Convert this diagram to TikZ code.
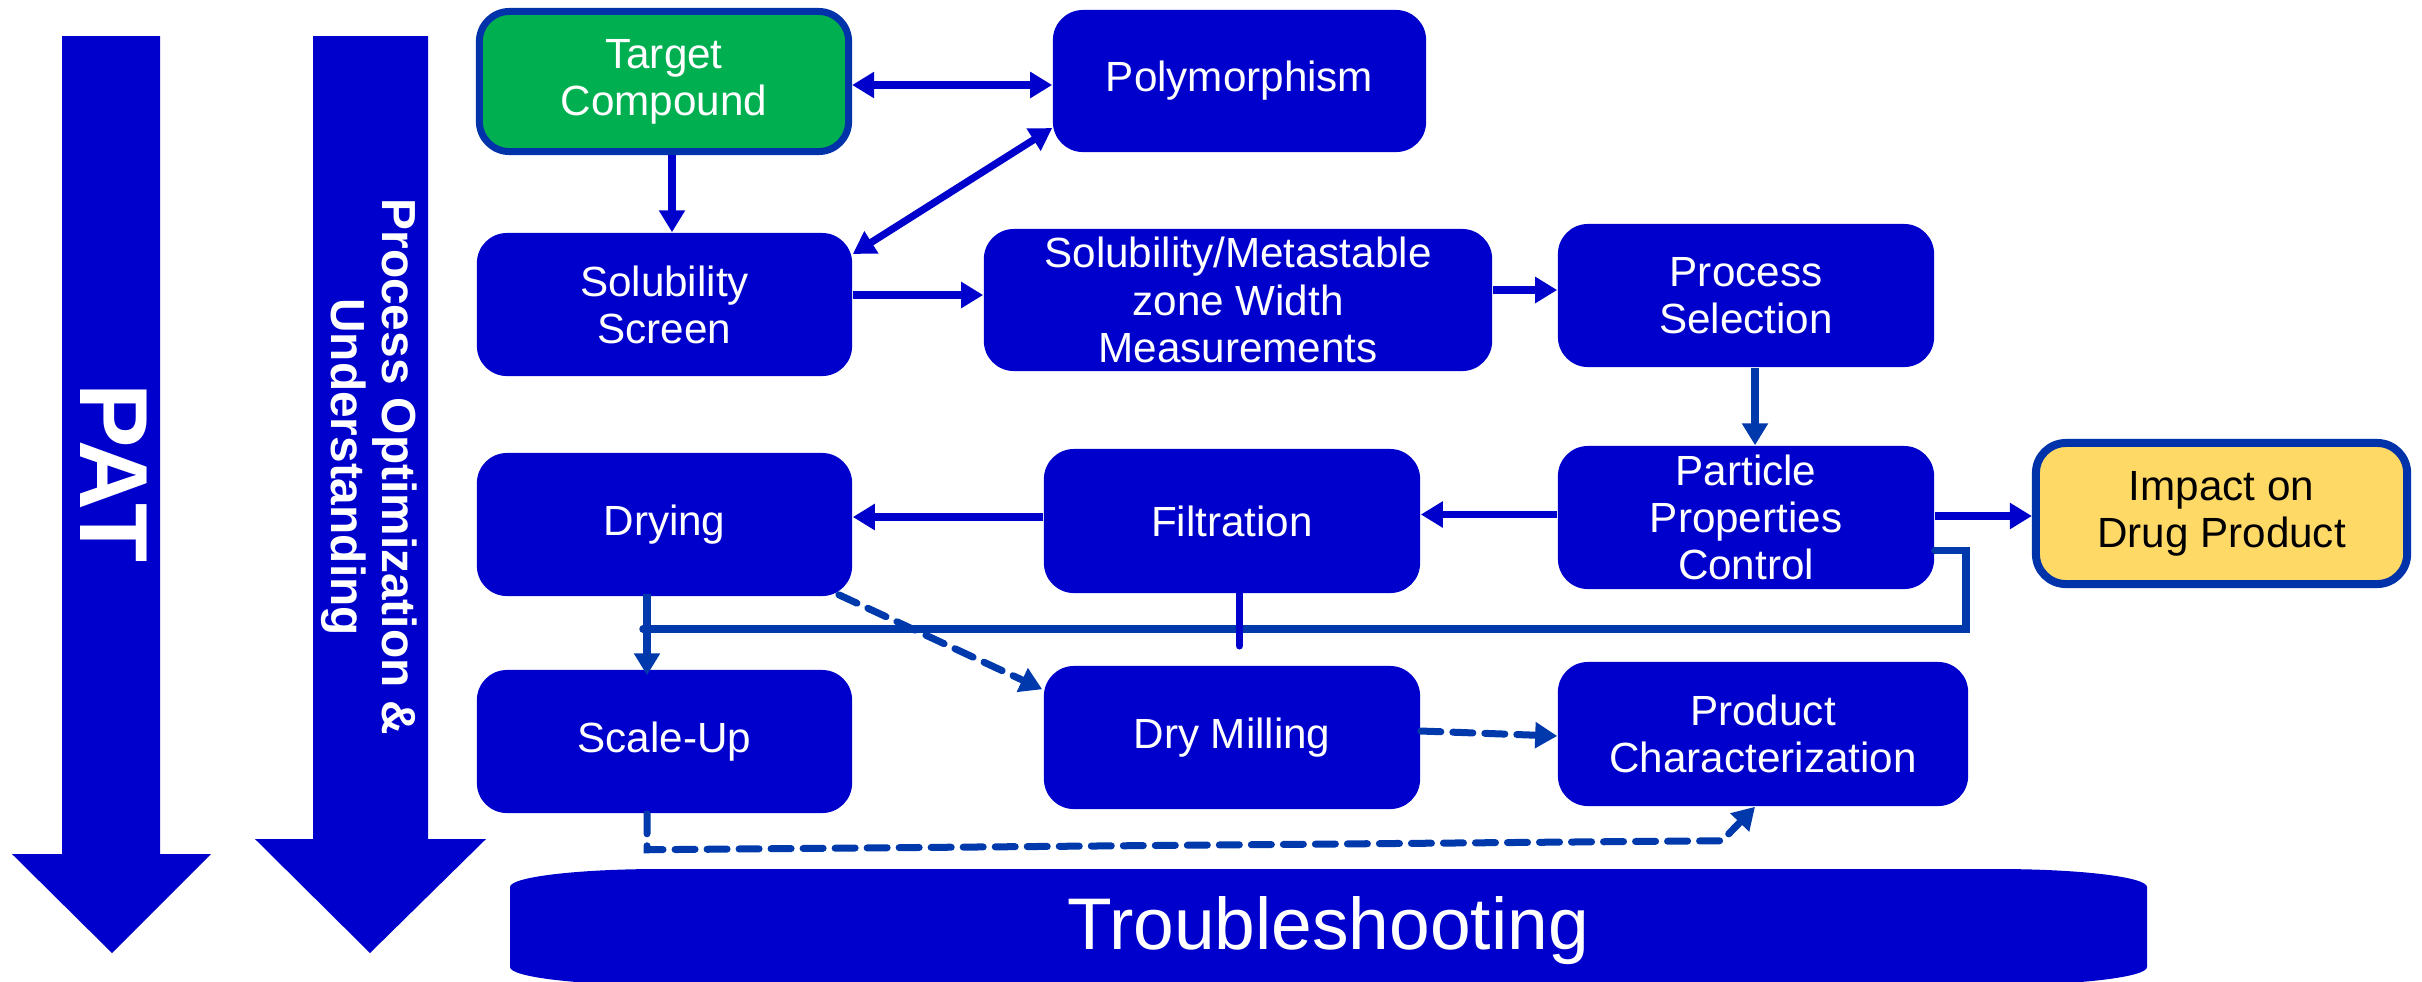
\documentclass[tikz,border=0pt]{standalone}
\usepackage{fontspec}
\setmainfont{Liberation Sans}
\usetikzlibrary{arrows.meta,calc}
\definecolor{boxblue}{HTML}{0000CC}
\definecolor{lineblue}{HTML}{0039AC}
\definecolor{edgeblue}{HTML}{0033AA}
\definecolor{tgreen}{HTML}{00B050}
\definecolor{tyellow}{HTML}{FFD966}
\begin{document}
\begin{tikzpicture}[x=0.01cm,y=-0.01cm,
  >={Triangle[length=0.22cm,width=0.25cm]},
  box/.style={rectangle, rounded corners=0.3cm, fill=boxblue, text=white, align=center,
    font=\fontsize{12}{13.4}\selectfont, inner sep=0pt, minimum width=3.75cm, minimum height=1.43cm},
  conn/.style={draw=boxblue, line width=0.072cm, ->},
  fb/.style={draw=lineblue, line width=0.075cm, line cap=round},
  dashconn/.style={draw=lineblue, line width=0.07cm, line cap=round, dash pattern=on 0.2cm off 0.12cm, ->},
  bigtext/.style={rotate=-90, text=white, align=center}
]
\useasboundingbox (0,0) rectangle (2422,981);

% big arrows
\fill[boxblue] (62,36) -- (160,36) -- (160,854) -- (211,854) -- (112,953) -- (12,854) -- (62,854) -- cycle;
\fill[boxblue] (313,36) -- (428,36) -- (428,839) -- (486,839) -- (370,953) -- (255,839) -- (313,839) -- cycle;
\node[bigtext, font=\bfseries\fontsize{27.5}{30}\selectfont] (pat) at (114,473) {PAT};
\node[bigtext, font=\bfseries\fontsize{13.6}{14.6}\selectfont] (poc) at (369,467) {Process Optimization \&\\Understanding};

% troubleshooting bar
\fill[boxblue] (510,887) .. controls (510,877) and (577,869) .. (660,869) -- (1997,869)
  .. controls (2080,869) and (2147,877) .. (2147,887) -- (2147,967)
  .. controls (2147,977) and (2080,985) .. (1997,985) -- (660,985)
  .. controls (577,985) and (510,977) .. (510,967) -- cycle;
\node[text=white, font=\fontsize{20.8}{24}\selectfont, anchor=base] (trouble) at (1328,949) {Troubleshooting};

% boxes
\node[box, fill=tgreen, draw=edgeblue, line width=0.07cm, minimum width=3.69cm, minimum height=1.40cm] (target) at (664,81.5) {Target\\Compound};
\node[box, minimum width=3.73cm, minimum height=1.42cm] (poly) at (1239.5,81) {Polymorphism};
\node[box] (solub) at (664.5,304.5) {Solubility\\Screen};
\node[box, minimum width=5.08cm, minimum height=1.42cm] (smzw) at (1238,300) {Solubility/Metastable\\zone Width\\Measurements};
\node[box, minimum width=3.76cm] (process) at (1746,295.5) {Process\\Selection};
\node[box] (drying) at (664.5,524.5) {Drying};
\node[box, minimum width=3.76cm, minimum height=1.44cm] (filtration) at (1232,521) {Filtration};
\node[box, minimum width=3.76cm] (particle) at (1746,517.5) {Particle\\Properties\\Control};
\node[box, fill=tyellow, text=black, draw=edgeblue, line width=0.08cm, minimum width=3.71cm, minimum height=1.41cm] (impact) at (2221.5,513.5) {Impact on\\Drug Product};
\node[box] (scaleup) at (664.5,741.5) {Scale-Up};
\node[box, minimum width=3.76cm] (drymill) at (1232,737.5) {Dry Milling};
\node[box, minimum width=4.10cm, minimum height=1.44cm] (product) at (1763,734) {Product\\Characterization};

% connectors
\draw[conn,<->] ($(target.east)+(0,3.5)$) -- ($(poly.west)+(0,4)$);
\draw[conn] ($(target.south)+(8,0)$) -- ($(solub.north)+(7.5,0)$);
\draw[conn,<->] ($(poly.west)+(0,47)$) -- ($(solub.east)+(0,-50.5)$);
\draw[conn] ($(solub.east)+(0,-9.5)$) -- ($(smzw.west)+(0,-5)$);
\draw[conn] ($(smzw.east)+(0,-10)$) -- ($(process.west)+(0,-5.5)$);
\draw[conn, draw=lineblue] ($(process.south)+(9,0)$) -- ($(particle.north)+(9,0)$);
\draw[conn] ($(particle.east)+(0,-1.5)$) -- ($(impact.west)+(0,2.5)$);
\draw[conn] ($(particle.west)+(0,-3)$) -- ($(filtration.east)+(0,-6.5)$);
\draw[conn] ($(filtration.west)+(0,-4)$) -- ($(drying.east)+(0,-7.5)$);

% feedback loop
\coordinate (fbend) at (643,629);
\draw[fb] ($(particle.east)+(0,33)$) -| ($(fbend)+(1323,0)$) -- (fbend);
\draw[fb, draw=boxblue] ($(filtration.south)+(7.5,0)$) -- ++(0,52);
\draw[conn, draw=lineblue, line width=0.075cm] ($(drying.south)+(-17.5,-3)$) -- ($(scaleup.north)+(-17.5,6)$);

% dashed connectors
\draw[dashconn] ($(drying.south east)+(-14,-2)$) -- ($(drymill.north west)+(-1,24)$);
\draw[dashconn] ($(drymill.east)+(0,-6.5)$) -- ($(product.west)+(0,2)$);
\draw[dashconn] ($(scaleup.south)+(-17.5,0)$) -- ++(0,36) -- ($(product.south)+(-41,34)$) -- ($(product.south)+(-8,0)$);
\end{tikzpicture}
\end{document}
